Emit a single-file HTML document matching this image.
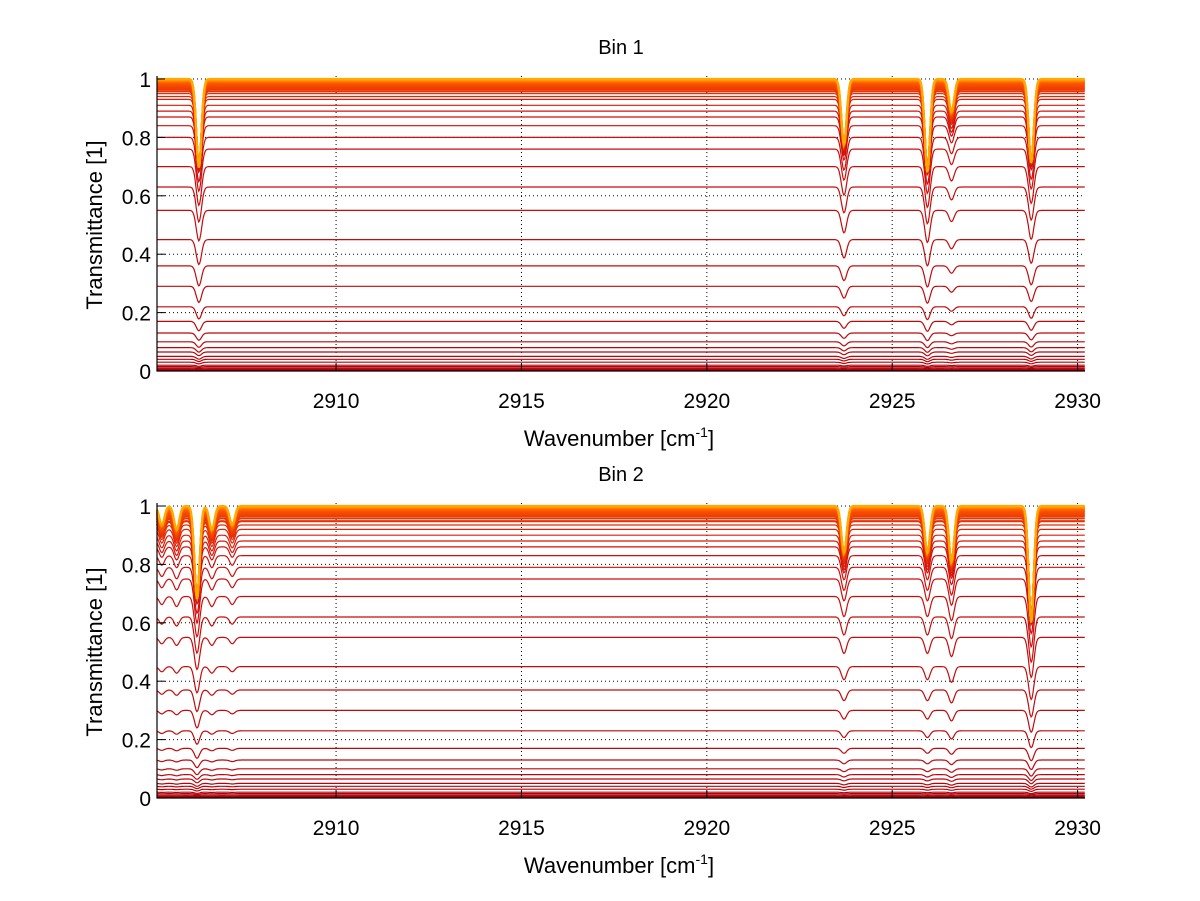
<!DOCTYPE html>
<html><head><meta charset="utf-8"><style>
body{margin:0;background:#fff;}
svg{display:block;font-family:"Liberation Sans",sans-serif;}
</style></head><body>
<svg id="fig" width="1200" height="901" viewBox="0 0 1200 901"></svg>
<script>
// ---- data ----
const xTicks = [2910, 2915, 2920, 2925, 2930];
const yTicks = [0, 0.2, 0.4, 0.6, 0.8, 1];
const yTickLabels = ["0", "0.2", "0.4", "0.6", "0.8", "1"];
const levelsBin1 = [0.003,0.006,0.01,0.015,0.02,0.03,0.04,0.05,0.065,0.08,0.1,0.13,0.17,0.22,0.29,0.36,0.45,0.55,0.63,0.7,0.76,0.8,0.84,0.87,0.89,0.91,0.93,0.94,0.95,0.958,0.965,0.97,0.975,0.98,0.984,0.988,0.991,0.994,0.997,1.0];
const levelsBin2 = [0.003,0.006,0.01,0.015,0.02,0.03,0.04,0.05,0.065,0.08,0.1,0.13,0.17,0.23,0.3,0.37,0.45,0.55,0.62,0.69,0.75,0.79,0.83,0.86,0.88,0.9,0.92,0.935,0.948,0.958,0.966,0.972,0.978,0.983,0.987,0.991,0.994,0.997,1.0];
const linesBin1Center = [2906.3, 2923.7, 2925.95, 2926.6, 2928.75];
const linesBin1Depth  = [0.19, 0.14, 0.2, 0.07, 0.18];
const linesBin2Center = [2905.3, 2905.7, 2906.25, 2906.65, 2907.2, 2923.7, 2925.95, 2926.6, 2928.75];
const linesBin2Depth  = [0.04, 0.05, 0.2, 0.05, 0.04, 0.1, 0.1, 0.12, 0.25];
const xMin = 2905.17, xMax = 2930.2;

const NS = "http://www.w3.org/2000/svg";
const svg = document.getElementById("fig");
function el(tag, attrs, parent){const e=document.createElementNS(NS,tag);for(const k in attrs)e.setAttribute(k,attrs[k]);(parent||svg).appendChild(e);return e;}

function colorFor(i,n){
  const t=i/(n-1);
  let r,g,b;
  if(t<0.6){r=170+40*t/0.6;g=0+15*t/0.6;b=10;}
  else if(t<0.9){const u=(t-0.6)/0.3;r=210+45*u;g=15+75*u;b=10-10*u;}
  else{const u=(t-0.9)/0.1;r=255;g=90+80*u;b=0;}
  return `rgb(${Math.round(Math.min(255,r))},${Math.round(g)},${Math.round(b)})`;
}

function drawPanel(name, top, levels, centers, depths, title){
  const L=157, R=1085, y0=top+292, y1=top;
  const sx=v=>L+(v-xMin)/(xMax-xMin)*(R-L);
  const sy=v=>y0-(v)*(y0-y1);
  const g=el("g",{});
  
  
  const t=el("text",{x:(L+R)/2,y:top-25,"text-anchor":"middle","font-size":"20"},g);
  t.textContent=title;
  
  
  xTicks.forEach(v=>{
    const gl=el("line",{x1:sx(v),x2:sx(v),y1:y1-3,y2:y0,stroke:"#000","stroke-width":1,"stroke-dasharray":"1,3"},g);
    
    
  });
  yTicks.forEach(v=>{
    if(v===0)return;
    const gl=el("line",{x1:L,x2:R,y1:sy(v),y2:sy(v),stroke:"#000","stroke-width":1,"stroke-dasharray":"1,3"},g);
    
    
  });
  const n=levels.length;
  levels.forEach((lv,i)=>{
    let d="";
    const boost=1+Math.max(0,lv-0.85)/0.15*0.6;
    for(let x=xMin;x<=xMax+1e-9;x+=0.025){
      let A=0;
      centers.forEach((c,k)=>{const dx=(x-c)/0.07;A+=depths[k]*Math.exp(-0.5*dx*dx);});
      let y=lv*(1-Math.min(0.5,A*boost));
      d+=(d?"L":"M")+sx(x).toFixed(1)+","+sy(y).toFixed(1);
    }
    const p=el("path",{d:d,fill:"none",stroke:colorFor(i,n),"stroke-width":i>n-12?2.2:1.2},g);
    
    
  });
  const ax=el("path",{d:`M${L},${y1-3}V${y0}H${R}`,fill:"none",stroke:"#000","stroke-width":1.2},g);
  
  
  xTicks.forEach(v=>{
    el("line",{x1:sx(v),x2:sx(v),y1:y0,y2:y0-8,stroke:"#000"},g);
    const tl=el("text",{x:sx(v),y:y0+37,"text-anchor":"middle","font-size":"21"},g);
    tl.textContent=v;
    
    
  });
  yTicks.forEach((v,i)=>{
    el("line",{x1:L,x2:L+8,y1:sy(v),y2:sy(v),stroke:"#000"},g);
    const tl=el("text",{x:L-6,y:sy(v)+8,"text-anchor":"end","font-size":"21"},g);
    tl.textContent=yTickLabels[i];
    
    
  });
  const xl=el("text",{x:619,y:y0+75,"text-anchor":"middle","font-size":"22"},g);
  xl.innerHTML='Wavenumber [cm<tspan dy="-9" font-size="14">-1</tspan><tspan dy="9">]</tspan>';
  
  
  const yl=el("text",{x:0,y:0,"text-anchor":"middle","font-size":"22",transform:`translate(102,${(y0+y1)/2}) rotate(-90)`},g);
  yl.textContent="Transmittance [1]";
  
  
}
drawPanel("bin-1-panel",79,levelsBin1,linesBin1Center,linesBin1Depth,"Bin 1");
drawPanel("bin-2-panel",506,levelsBin2,linesBin2Center,linesBin2Depth,"Bin 2");
</script>
</body></html>
